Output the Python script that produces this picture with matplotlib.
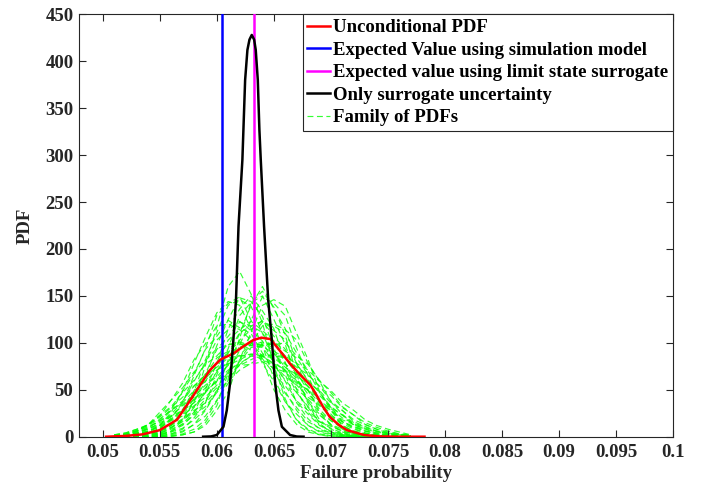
import matplotlib
matplotlib.use("Agg")
import matplotlib.pyplot as plt

plt.rcParams['font.family'] = ['Liberation Serif', 'DejaVu Serif']
plt.rcParams['font.weight'] = 'bold'

# ---------------- data ----------------
# shared abscissa for the family of PDFs
family_x = [0.051, 0.052, 0.053, 0.054, 0.055, 0.056, 0.057, 0.058, 0.059,
            0.060, 0.061, 0.062, 0.063, 0.064, 0.065, 0.066, 0.067, 0.068,
            0.069, 0.070, 0.071, 0.072, 0.073, 0.074, 0.075, 0.076, 0.077]

family_pdfs = [
    [1, 3, 6, 13, 22, 39, 57, 82, 99, 118, 120, 114, 103, 78, 59, 37, 24, 12, 6, 3, 1, 0, 0, 0, 0, 0, 0],
    [1, 2, 4, 9, 18, 29, 49, 67, 93, 107, 124, 116, 110, 89, 71, 46, 31, 16, 9, 4, 2, 1, 0, 0, 0, 0, 0],
    [0, 0, 1, 3, 8, 20, 36, 65, 94, 129, 142, 149, 124, 97, 62, 38, 18, 8, 3, 1, 0, 0, 0, 0, 0, 0, 0],
    [2, 4, 8, 13, 23, 32, 47, 60, 77, 86, 99, 98, 100, 86, 77, 60, 47, 32, 23, 13, 8, 4, 2, 1, 0, 0, 0],
    [0, 0, 0, 0, 2, 6, 17, 37, 76, 117, 160, 176, 152, 121, 76, 40, 17, 7, 2, 0, 0, 0, 0, 0, 0, 0, 0],
    [0, 0, 1, 2, 5, 12, 28, 48, 82, 111, 140, 146, 139, 110, 82, 48, 28, 12, 5, 2, 1, 0, 0, 0, 0, 0, 0],
    [0, 1, 2, 4, 9, 18, 29, 49, 67, 93, 107, 122, 118, 111, 89, 70, 47, 31, 16, 9, 4, 2, 1, 0, 0, 0, 0],
    [2, 3, 6, 11, 16, 28, 38, 54, 66, 84, 91, 101, 97, 95, 80, 70, 51, 40, 26, 17, 11, 6, 3, 2, 1, 0, 0],
    [1, 3, 7, 13, 21, 31, 42, 54, 66, 74, 84, 86, 88, 82, 76, 64, 55, 42, 33, 22, 16, 10, 6, 4, 2, 1, 0],
    [1, 2, 4, 8, 15, 21, 34, 45, 62, 75, 90, 95, 102, 96, 89, 74, 62, 45, 34, 21, 14, 8, 4, 2, 1, 0, 0],
    [0, 0, 0, 1, 2, 5, 14, 26, 50, 78, 115, 136, 150, 134, 115, 79, 50, 26, 13, 5, 2, 1, 0, 0, 0, 0, 0],
    [0, 0, 1, 3, 6, 12, 24, 37, 59, 79, 103, 114, 123, 113, 102, 78, 59, 37, 24, 12, 6, 3, 1, 0, 0, 0, 0],
    [2, 4, 8, 12, 19, 28, 36, 49, 59, 71, 78, 86, 86, 86, 78, 71, 59, 49, 36, 28, 18, 13, 8, 5, 3, 2, 1],
    [1, 2, 3, 6, 11, 18, 26, 40, 52, 69, 80, 95, 97, 101, 91, 84, 66, 54, 38, 28, 16, 11, 6, 3, 2, 1, 0],
    [0, 0, 0, 0, 1, 3, 8, 20, 36, 66, 94, 129, 143, 150, 125, 98, 62, 38, 18, 8, 3, 1, 0, 0, 0, 0, 0],
    [0, 0, 1, 2, 4, 10, 16, 31, 47, 70, 89, 111, 118, 123, 107, 93, 68, 49, 29, 17, 9, 4, 2, 1, 0, 0, 0],
    [0, 1, 2, 4, 8, 13, 23, 32, 47, 60, 77, 87, 99, 98, 99, 86, 77, 60, 47, 32, 23, 13, 8, 4, 2, 1, 0],
    [0, 0, 0, 1, 3, 6, 12, 24, 37, 59, 78, 103, 114, 124, 113, 103, 78, 59, 37, 24, 12, 6, 3, 1, 0, 0, 0],
    [0, 0, 0, 0, 1, 2, 5, 13, 28, 48, 82, 110, 140, 160, 136, 115, 78, 50, 26, 13, 5, 2, 1, 0, 0, 0, 0],
    [1, 2, 4, 8, 12, 19, 28, 36, 49, 59, 71, 78, 86, 85, 88, 77, 71, 58, 49, 36, 28, 18, 13, 8, 5, 3, 1],
    [0, 1, 2, 3, 6, 10, 18, 26, 40, 52, 69, 80, 95, 97, 101, 91, 84, 66, 54, 38, 28, 16, 11, 6, 3, 2, 1],
    [0, 0, 0, 1, 2, 5, 9, 18, 29, 49, 68, 92, 107, 122, 118, 110, 89, 70, 47, 31, 16, 9, 4, 2, 1, 0, 0],
    [1, 2, 3, 6, 10, 17, 22, 33, 42, 55, 64, 76, 82, 88, 86, 84, 74, 66, 53, 44, 31, 23, 15, 10, 6, 3, 2],
    [0, 0, 1, 2, 4, 8, 13, 23, 32, 47, 60, 77, 86, 99, 98, 100, 86, 77, 60, 47, 32, 23, 13, 8, 4, 2, 1],
    [0, 0, 0, 0, 0, 1, 2, 5, 12, 28, 48, 82, 111, 140, 146, 139, 110, 82, 48, 28, 12, 5, 2, 1, 0, 0, 0],
    [0, 0, 0, 0, 1, 3, 6, 13, 22, 39, 57, 82, 99, 118, 120, 114, 103, 78, 59, 37, 24, 12, 6, 3, 1, 0, 0],
    [0, 1, 2, 5, 12, 26, 48, 78, 106, 132, 144, 140, 115, 82, 50, 28, 13, 5, 2, 1, 0, 0, 0, 0, 0, 0, 0],
    [1, 2, 5, 9, 13, 22, 28, 40, 48, 60, 67, 76, 77, 80, 73, 69, 57, 50, 38, 30, 20, 14, 9, 6, 3, 2, 1],
    [0, 0, 0, 0, 0, 1, 3, 8, 18, 38, 62, 98, 124, 149, 142, 129, 94, 65, 36, 20, 8, 3, 1, 0, 0, 0, 0],
    [0, 1, 3, 6, 12, 24, 37, 59, 79, 103, 114, 123, 113, 102, 78, 59, 37, 24, 12, 6, 3, 1, 0, 0, 0, 0, 0],
    [0, 0, 0, 0, 0, 0, 2, 5, 15, 33, 68, 105, 143, 155, 138, 108, 66, 35, 14, 5, 2, 0, 0, 0, 0, 0, 0],
    [0, 1, 2, 4, 8, 12, 19, 28, 36, 49, 59, 71, 78, 86, 86, 86, 78, 71, 59, 49, 36, 28, 18, 12, 8, 5, 2],
    [0, 2, 6, 13, 26, 39, 52, 69, 81, 94, 98, 100, 92, 83, 67, 54, 38, 28, 16, 11, 6, 3, 2, 1, 0, 0, 0],
    [0, 0, 0, 1, 3, 9, 18, 38, 63, 97, 125, 148, 144, 128, 94, 66, 36, 19, 8, 3, 1, 0, 0, 0, 0, 0, 0],
    [1, 3, 6, 10, 17, 22, 33, 42, 55, 64, 76, 82, 88, 86, 84, 74, 66, 53, 44, 31, 23, 15, 10, 6, 4, 2, 1],
]

# unconditional PDF (red)
uncond_x = [0.0503, 0.0520, 0.0535, 0.0550, 0.0565, 0.0579, 0.0588, 0.0594, 0.0603,
            0.0615, 0.0623, 0.0632, 0.0639, 0.0647, 0.0655, 0.0664, 0.0673, 0.0682,
            0.0688, 0.0693, 0.0699, 0.0707, 0.0714, 0.0729, 0.0743, 0.0760, 0.0782]
uncond_y = [0, 0.8, 2.5, 7, 18, 43, 60, 71, 82,
            89, 96, 103, 105.5, 104, 92, 78, 66, 55,
            43, 32, 21, 12.5, 7, 1.8, 0.3, 0, 0]

# only surrogate uncertainty (black)
surr_x = [0.0588, 0.0595, 0.0600, 0.06058, 0.06087, 0.06116, 0.06145, 0.06168, 0.0619,
          0.06224, 0.06233, 0.06248, 0.06268, 0.06286, 0.06306, 0.06327, 0.06341, 0.06359,
          0.06373, 0.06385, 0.06414, 0.06450, 0.06482, 0.06511, 0.0654, 0.0657, 0.06642,
          0.0670, 0.0676]
surr_y = [0, 0.3, 1.8, 10.6, 28, 57, 103, 146, 224,
          295, 327, 380, 412, 423, 428, 423, 412, 380,
          327, 295, 224, 146, 103, 57, 28, 10.6, 1.8,
          0.2, 0]

expected_sim = 0.06043
expected_surrogate = 0.06329

x_ticks = [0.05, 0.055, 0.06, 0.065, 0.07, 0.075, 0.08, 0.085, 0.09, 0.095, 0.1]
x_tick_labels = ['0.05', '0.055', '0.06', '0.065', '0.07', '0.075', '0.08', '0.085', '0.09', '0.095', '0.1']
y_ticks = [0, 50, 100, 150, 200, 250, 300, 350, 400, 450]

labels = ['Unconditional PDF', 'Expected Value using simulation model',
          'Expected value using limit state surrogate', 'Only surrogate uncertainty',
          'Family of PDFs']

# ---------------- plot ----------------
fig = plt.figure(figsize=(7.02, 4.93), dpi=100)
ax = fig.add_axes([0.1125, 0.1142, 0.8466, 0.8568])

green_handle = None
for k, ys in enumerate(family_pdfs):
    ln, = ax.plot(family_x, ys, color=(0.0, 1.0, 0.0), alpha=0.8, lw=0.85,
                  linestyle=(0, (5, 3)), zorder=1)
    if k == 0:
        green_handle = ln

red_h, = ax.plot(uncond_x, uncond_y, color='#ff0000', lw=1.8, zorder=4)
blue_h = ax.axvline(expected_sim, color='#0000ff', lw=1.8, zorder=3)
mag_h = ax.axvline(expected_surrogate, color='#ff00ff', lw=1.8, zorder=3)
black_h, = ax.plot(surr_x, surr_y, color='black', lw=1.8, zorder=5)

ax.set_xlim(0.04792, 0.1)
ax.set_ylim(0, 450)
ax.set_xticks(x_ticks)
ax.set_xticklabels(x_tick_labels)
ax.set_yticks(y_ticks)

dark = '#262626'
for sp in ax.spines.values():
    sp.set_color(dark)
    sp.set_linewidth(0.8)
ax.tick_params(direction='in', top=True, right=True, length=5, width=0.8,
               colors=dark, labelsize=13.5)
ax.tick_params(axis='x', pad=5)
ax.tick_params(axis='y', pad=4)
for t in ax.get_xticklabels() + ax.get_yticklabels():
    t.set_fontweight('bold')

ax.set_xlabel('Failure probability', fontsize=13.5, fontweight='bold', color=dark, labelpad=3)
ax.set_ylabel('PDF', fontsize=13.5, fontweight='bold', color=dark, labelpad=8)

leg = ax.legend([red_h, blue_h, mag_h, black_h, green_handle], labels,
                loc='upper right', bbox_to_anchor=(1, 1), borderaxespad=0,
                fancybox=False, edgecolor=dark, framealpha=1,
                prop={'weight': 'bold', 'size': 13.5}, handlelength=1.2,
                handletextpad=0.2, labelspacing=0.29, borderpad=0.25)
leg.get_frame().set_linewidth(0.8)
leg.set_zorder(10)

fig.savefig('out.png', dpi=100)
